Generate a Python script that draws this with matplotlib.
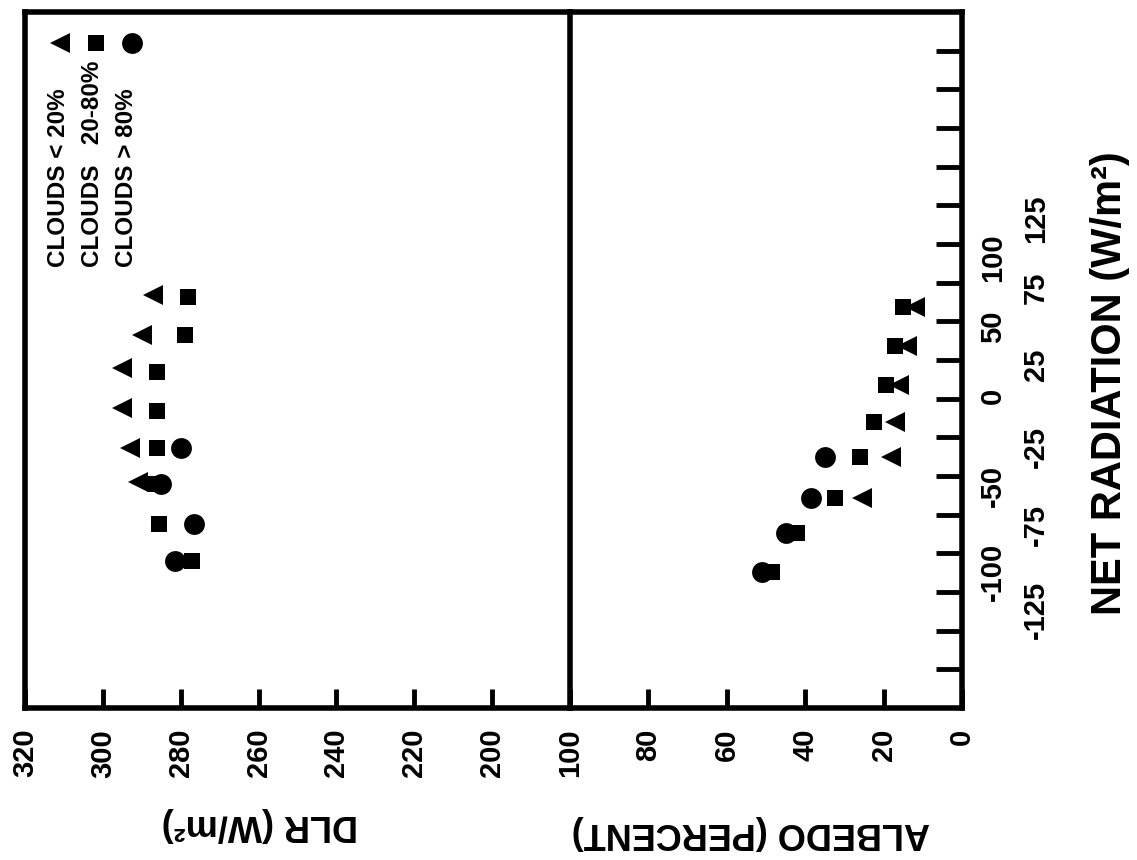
import matplotlib
matplotlib.use('Agg')
import matplotlib.pyplot as plt
from matplotlib import font_manager
from matplotlib.ticker import FixedLocator, FuncFormatter

# values
# left panel: downward longwave radiation (W/m2) against net radiation (W/m2)
nr_dlr_lo = [67, 41, 20, -6, -32, -54]
dlr_lo = [287, 290, 295, 295, 293, 291]
nr_dlr_mid = [66, 41, 17, -8, -32, -55, -81, -105]
dlr_mid = [278, 279, 286, 286, 286, 286.5, 285.5, 277]
nr_dlr_hi = [-32, -55, -81, -105]
dlr_hi = [280, 285, 276.5, 281.5]

# right panel: albedo (percent) against net radiation
nr_alb_lo = [59, 34, 9, -15, -38, -64]
alb_lo = [12, 14, 16, 17, 18, 25.5]
nr_alb_mid = [59, 34, 9, -15, -38, -64, -87, -112]
alb_mid = [15, 17, 19.5, 22.5, 26, 32.5, 42, 48.5]
nr_alb_hi = [-38, -64, -87, -112]
alb_hi = [35, 38.5, 45, 51]

dlr_ticks = [320, 300, 280, 260, 240, 220, 200]
alb_ticks = [100, 80, 60, 40, 20, 0]
leg_labels = ['CLOUDS < 20%', 'CLOUDS   20-80%', 'CLOUDS > 80%']

names = set(f.name for f in font_manager.fontManager.ttflist)
FONT = 'Liberation Sans' if 'Liberation Sans' in names else 'DejaVu Sans'
NARROW = 'Liberation Sans Narrow' if 'Liberation Sans Narrow' in names else FONT
plt.rcParams['font.family'] = [FONT, 'DejaVu Sans']
plt.rcParams['font.weight'] = 'bold'

fig = plt.figure(figsize=(11.37, 8.6), dpi=100)
L, D, R = 25 / 1137, 570 / 1137, 962 / 1137
B, T = 1 - 708 / 860, 1 - 12 / 860
ax1 = fig.add_axes([L, B, D - L, T - B])
ax2 = fig.add_axes([D, B, R - D, T - B])

for ax in (ax1, ax2):
    ax.patch.set_visible(False)
    for s in ax.spines.values():
        s.set_linewidth(4)
    ax.set_ylim(-200, 250)
    ax.tick_params(axis='x', direction='in', length=14, width=3.5, pad=15,
                   labelsize=21, labelrotation=90)
ax2.spines['left'].set_visible(False)

ax1.set_xlim(320, 180)
ax1.set_xticks(dlr_ticks)
ax1.tick_params(axis='y', left=False, labelleft=False)

ax2.set_xlim(100, 0)
ax2.set_xticks(alb_ticks)

# net radiation axis on the far right, labels in two staggered columns
ax2.yaxis.set_major_locator(FixedLocator(list(range(-175, 250, 50))))
ax2.yaxis.set_minor_locator(FixedLocator(list(range(-150, 250, 50))))
fmt = FuncFormatter(lambda v, p: '%d' % v if -125 <= v <= 125 else '')
ax2.yaxis.set_major_formatter(fmt)
ax2.yaxis.set_minor_formatter(fmt)
ax2.tick_params(axis='y', which='both', direction='in', length=19, width=3.5,
                labelsize=21, labelrotation=90, left=False, labelleft=False,
                right=True, labelright=True)
ax2.tick_params(axis='y', which='major', pad=43)
ax2.tick_params(axis='y', which='minor', pad=12.5)

kw = dict(color='black', linestyle='none', markeredgewidth=0, clip_on=False)
ax1.plot(dlr_lo, nr_dlr_lo, marker='<', markersize=14, **kw)
ax1.plot(dlr_mid, nr_dlr_mid, marker='s', markersize=12, **kw)
ax1.plot(dlr_hi, nr_dlr_hi, marker='o', markersize=15, **kw)
ax2.plot(alb_lo, nr_alb_lo, marker='<', markersize=14, **kw)
ax2.plot(alb_mid, nr_alb_mid, marker='s', markersize=12, **kw)
ax2.plot(alb_hi, nr_alb_hi, marker='o', markersize=15, **kw)

# legend, written sideways like the rest of the figure
for i, (lab, m, ms) in enumerate(zip(leg_labels, ['<', 's', 'o'], [14, 12, 15])):
    ax1.plot([0.064 + i * 0.066], [0.955], marker=m, markersize=ms,
             transform=ax1.transAxes, **kw)
    ax1.text(0.061 + i * 0.063, 0.634, lab, rotation=90, rotation_mode='anchor',
             ha='left', va='center', fontsize=17.5, transform=ax1.transAxes)

fig.text(0.2287, 0.0407, 'DLR (W/m²)', rotation=180, ha='center', va='center',
         fontsize=26)
fig.text(0.6605, 0.0314, 'ALBEDO (PERCENT)', rotation=180, ha='center',
         va='center', fontsize=26)
fig.text(0.976, 0.555, 'NET RADIATION (W/m²)', rotation=90, ha='center',
         va='center', fontsize=30, family=[NARROW, 'DejaVu Sans'])

fig.savefig('out.png', dpi=100)
